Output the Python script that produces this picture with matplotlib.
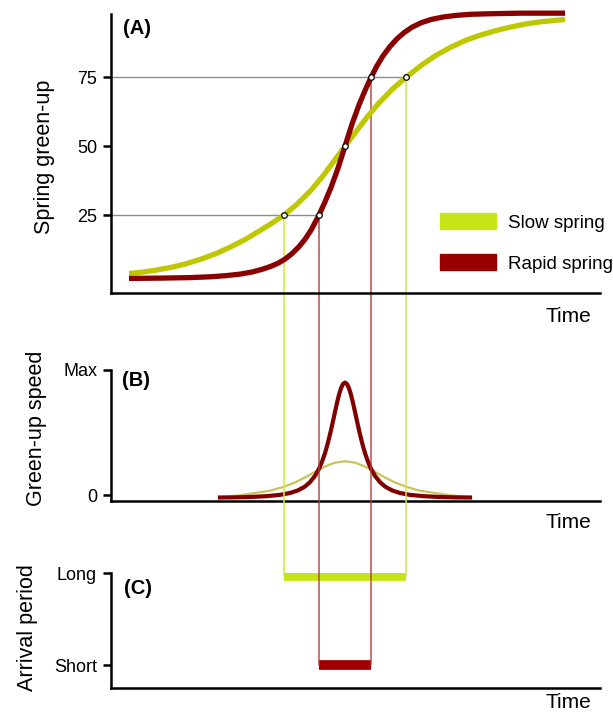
import matplotlib
matplotlib.use('Agg')
import matplotlib.pyplot as plt
from matplotlib.patches import ConnectionPatch, Patch

plt.rcParams['font.family'] = ['Liberation Sans', 'DejaVu Sans']

# ---- data (time axis in arbitrary units, 0..489) ----
slow_t = [18, 30, 45, 60, 75, 90, 105, 120, 135, 150, 162, 173, 185, 200, 212, 223, 234, 245,
          256, 267, 281, 295, 310, 325, 340, 355, 370, 385, 400, 415, 430, 445, 454]
slow_v = [3.8, 4.2, 5.0, 6.0, 7.3, 9.0, 11.0, 13.5, 16.3, 19.6, 22.3, 25.0, 28.6, 34.0, 39.2,
          44.6, 50.0, 55.3, 60.5, 65.3, 70.6, 75.0, 79.3, 83.0, 86.0, 88.5, 90.4, 92.0, 93.3,
          94.4, 95.2, 95.7, 96.0]

rapid_t = [18, 50, 80, 100, 115, 130, 142, 152, 160, 167, 174, 181, 188, 194, 200, 208, 214,
           220, 227, 234, 241, 248, 254, 260, 266, 272, 279, 286, 293, 301, 310, 320, 332, 345,
           360, 380, 410, 454]
rapid_v = [2.0, 2.1, 2.3, 2.6, 3.0, 3.6, 4.4, 5.4, 6.4, 7.5, 9.0, 11.0, 13.5, 16.2, 19.5, 25.0,
           29.8, 35.0, 42.0, 50.0, 58.0, 65.0, 70.2, 75.0, 79.2, 82.8, 86.2, 89.0, 91.2, 93.2,
           94.8, 96.0, 96.9, 97.5, 97.9, 98.1, 98.3, 98.3]

speed_rapid_t = [109, 124, 139, 156, 169, 179, 187, 194, 199, 204, 208, 211, 214, 217, 220, 222,
                 224, 226, 228, 230, 232, 234, 236, 238, 240, 242, 244, 246, 248, 251, 254, 257,
                 260, 264, 269, 274, 281, 289, 299, 312, 329, 344, 359]
speed_rapid_v = [-0.020, -0.019, -0.016, -0.009, 0.001, 0.016, 0.037, 0.068, 0.103, 0.153, 0.210,
                 0.266, 0.335, 0.420, 0.519, 0.591, 0.665, 0.737, 0.802, 0.854, 0.888, 0.900,
                 0.888, 0.854, 0.802, 0.737, 0.665, 0.591, 0.519, 0.420, 0.335, 0.266, 0.210,
                 0.153, 0.103, 0.068, 0.037, 0.016, 0.001, -0.009, -0.016, -0.019, -0.020]

speed_slow_t = [109, 129, 144, 159, 172, 184, 194, 204, 214, 224, 234, 244, 254, 264, 274, 284,
                296, 309, 324, 339, 359]
speed_slow_v = [-0.019, -0.002, 0.016, 0.034, 0.064, 0.100, 0.140, 0.185, 0.228, 0.259, 0.270,
                0.259, 0.228, 0.185, 0.140, 0.100, 0.064, 0.034, 0.016, -0.002, -0.019]

# dates where green-up hits 25 / 75 %
slow_q = [173, 295]
rapid_q = [208, 260]
mid_t, mid_v = 234, 50
arrival_y = {'slow': 0.97, 'rapid': 0.0}

C_LIME = '#bfc700'
C_LIME_LEG = '#c6e316'
C_LIME_LINE = '#d2ea3a'
C_LIME_B = '#c9c35c'
C_RED = '#8a0000'
C_RED_LEG = '#990000'
C_RED_LINE = '#b23b3b'

W, H = 613, 719
fig = plt.figure(figsize=(W / 100, H / 100), dpi=100)


def box(top, bottom):
    return [111 / W, 1 - bottom / H, (600 - 111) / W, (bottom - top) / H]


axA = fig.add_axes(box(14, 293))
axB = fig.add_axes(box(370, 501))
axC = fig.add_axes(box(573, 688))

for ax in [axA, axB, axC]:
    ax.spines[['top', 'right']].set_visible(False)
    ax.spines[['left', 'bottom']].set_linewidth(1.8)
    ax.set_xlim(0, 489)
    ax.set_xticks([])
    ax.tick_params(axis='y', length=6, width=1.8, labelsize=13, pad=4)

# ---- (A) ----
axA.set_zorder(2)
axA.patch.set_visible(False)
axA.set_ylim(-3.3, 98)
axA.set_yticks([25, 50, 75])
axA.plot([0, slow_q[1]], [75, 75], color='#8c8c8c', lw=1.0, zorder=1)
axA.plot([0, rapid_q[0]], [25, 25], color='#8c8c8c', lw=1.0, zorder=1)
axA.plot(slow_t, slow_v, color=C_LIME, lw=3.8, solid_capstyle='butt',
         solid_joinstyle='round', zorder=3, clip_on=False)
axA.plot(rapid_t, rapid_v, color=C_RED, lw=3.8, solid_capstyle='butt',
         solid_joinstyle='round', zorder=3, clip_on=False)
pts_t = [slow_q[0], rapid_q[0], mid_t, rapid_q[1], slow_q[1]]
pts_v = [25, 25, mid_v, 75, 75]
axA.plot(pts_t, pts_v, 'o', ms=4, mfc='white', mec='black', mew=0.9, zorder=5)
axA.legend(handles=[Patch(color=C_LIME_LEG, label='Slow spring'),
                    Patch(color=C_RED_LEG, label='Rapid spring')],
           loc='upper left', bbox_to_anchor=((440 - 111) / 489, (293 - 213) / 279),
           frameon=False, fontsize=13.5, handlelength=3.0, handleheight=0.95,
           handletextpad=0.6, labelspacing=1.2, borderpad=0, borderaxespad=0)

# ---- (B) ----
axB.set_ylim(-0.048, 1.0)
axB.set_yticks([0, 1])
axB.set_yticklabels(['0', 'Max'])
axB.plot(speed_slow_t, speed_slow_v, color=C_LIME_B, lw=1.6, zorder=3)
axB.plot(speed_rapid_t, speed_rapid_v, color='#800000', lw=3.0,
         solid_joinstyle='round', zorder=3)

# ---- (C) ----
axC.set_ylim(-0.25, 1.0)
axC.set_yticks([0, 1])
axC.set_yticklabels(['Short', 'Long'])
axC.hlines(arrival_y['slow'], slow_q[0], slow_q[1], color=C_LIME_LEG, lw=7, zorder=2)
axC.hlines(arrival_y['rapid'], rapid_q[0], rapid_q[1], color='#a00000', lw=7, zorder=2)

# connecting lines from (A) down to (C)
for t, v in zip(slow_q, [25, 75]):
    fig.add_artist(ConnectionPatch(xyA=(t, v), coordsA=axA.transData,
                                   xyB=(t, arrival_y['slow']), coordsB=axC.transData,
                                   color=C_LIME_LINE, lw=1.1))
for t, v in zip(rapid_q, [25, 75]):
    fig.add_artist(ConnectionPatch(xyA=(t, v), coordsA=axA.transData,
                                   xyB=(t, arrival_y['rapid']), coordsB=axC.transData,
                                   color=C_RED_LINE, lw=1.0))

# ---- labels ----
def fxy(x, y):
    return x / W, 1 - y / H

for lab, (x, y) in [('(A)', (123, 29)), ('(B)', (122, 381)), ('(C)', (124, 588))]:
    fig.text(*fxy(x, y), lab, fontsize=14.5, fontweight='bold', ha='left', va='center')

for y in [316, 523, 703]:
    fig.text(*fxy(591, y), 'Time', fontsize=15, ha='right', va='center')

fig.text(*fxy(45, 157), 'Spring green-up', fontsize=15.5, rotation=90, ha='center', va='center')
fig.text(*fxy(37, 428), 'Green-up speed', fontsize=15.5, rotation=90, ha='center', va='center')
fig.text(*fxy(28, 628), 'Arrival period', fontsize=15.5, rotation=90, ha='center', va='center')

fig.savefig('out.png', dpi=100)
